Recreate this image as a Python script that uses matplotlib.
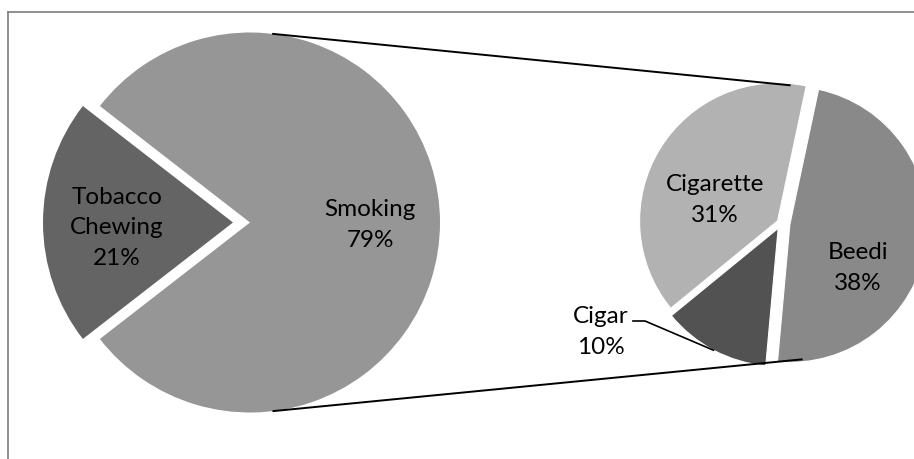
import matplotlib
matplotlib.use("Agg")
import matplotlib.pyplot as plt
import numpy as np

# ---- data ----
main_labels = ["Smoking", "Tobacco\nChewing"]
main_values = [79, 21]
sub_labels = ["Cigarette", "Beedi", "Cigar"]
sub_values = [31, 38, 10]

# ---- layout (pixel space, y measured from top) ----
W, H = 914, 460
main_center = (250, 223.5)
main_radius = 190
sub_center = (781, 224)
sub_radius = 138
main_colors = ["#969696", "#646464"]
main_explode = [0, 17]            # pixels
sub_colors = {"Cigarette": "#b2b2b2", "Beedi": "#898989", "Cigar": "#525252"}
sub_explode = {"Cigarette": 4, "Beedi": 9, "Cigar": 6}   # pixels
label_pos = {"Smoking": (370, 225), "Tobacco\nChewing": (117, 228),
             "Cigarette": (715, 200), "Beedi": (858, 268), "Cigar": (601, 332)}

plt.rcParams["font.family"] = ["Lato", "DejaVu Sans"]

def Y(y):
    return H - y

fig = plt.figure(figsize=(W / 100, H / 100), dpi=100)
ax = fig.add_axes([0, 0, 1, 1])

# main pie: Smoking centred on the right
total = sum(main_values)
start = -main_values[0] / total * 360 / 2
ax.pie(main_values, colors=main_colors, startangle=start,
       center=(main_center[0], Y(main_center[1])), radius=main_radius,
       explode=main_explode, wedgeprops=dict(linewidth=0), frame=True)

# sub pie (counter-clockwise: Beedi, Cigarette, Cigar)
order = ["Beedi", "Cigarette", "Cigar"]
vals = [sub_values[sub_labels.index(k)] for k in order]
sub_total = sum(vals)
boundary = 78  # Beedi/Cigarette boundary angle
sub_start = boundary - vals[0] / sub_total * 360
sub_wedges, _ = ax.pie(vals, colors=[sub_colors[k] for k in order],
                       startangle=sub_start,
                       center=(sub_center[0], Y(sub_center[1])), radius=sub_radius,
                       explode=[sub_explode[k] for k in order],
                       wedgeprops=dict(linewidth=0.8, edgecolor="white"), frame=True)

# connector lines
def rim(center, r, ang):
    a = np.deg2rad(ang)
    return center[0] + r * np.cos(a), Y(center[1]) + r * np.sin(a)

for a1, a2 in [(83.3, 86), (-83.2, -81)]:
    p1 = rim(main_center, main_radius, a1)
    p2 = rim(sub_center, sub_radius, a2)
    ax.plot([p1[0], p2[0]], [p1[1], p2[1]], color="black", lw=1.4,
            solid_capstyle="butt")

# labels
def pct(v):
    return f"{round(v / total * 100)}%"

for lab, v in zip(main_labels, main_values):
    x, y = label_pos[lab]
    ax.text(x, Y(y), f"{lab}\n{pct(v)}", ha="center", va="center",
            fontsize=17.5, color="black", linespacing=1.55)
for lab, v in zip(sub_labels, sub_values):
    x, y = label_pos[lab]
    ax.text(x, Y(y), f"{lab}\n{pct(v)}", ha="center", va="center",
            fontsize=17.5, color="black", linespacing=1.55)

# Cigar leader line
cw = sub_wedges[order.index("Cigar")]
mid = np.deg2rad((cw.theta1 + cw.theta2) / 2)
ex, ey = cw.center[0] + cw.r * np.cos(mid), cw.center[1] + cw.r * np.sin(mid)
lx, ly = label_pos["Cigar"]
ax.plot([lx + 32, lx + 44, ex], [Y(ly - 10), Y(ly - 10), ey], color="black", lw=1.2)

# chart border (clipped at right and bottom)
ax.plot([8, W + 5], [Y(13), Y(13)], color="#878787", lw=1.3)
ax.plot([8, 8], [Y(13), -5], color="#878787", lw=1.3)

ax.set_xlim(0, W)
ax.set_ylim(0, H)
ax.set_aspect("equal")
ax.axis("off")
fig.savefig("out.png", dpi=100, facecolor="white")
